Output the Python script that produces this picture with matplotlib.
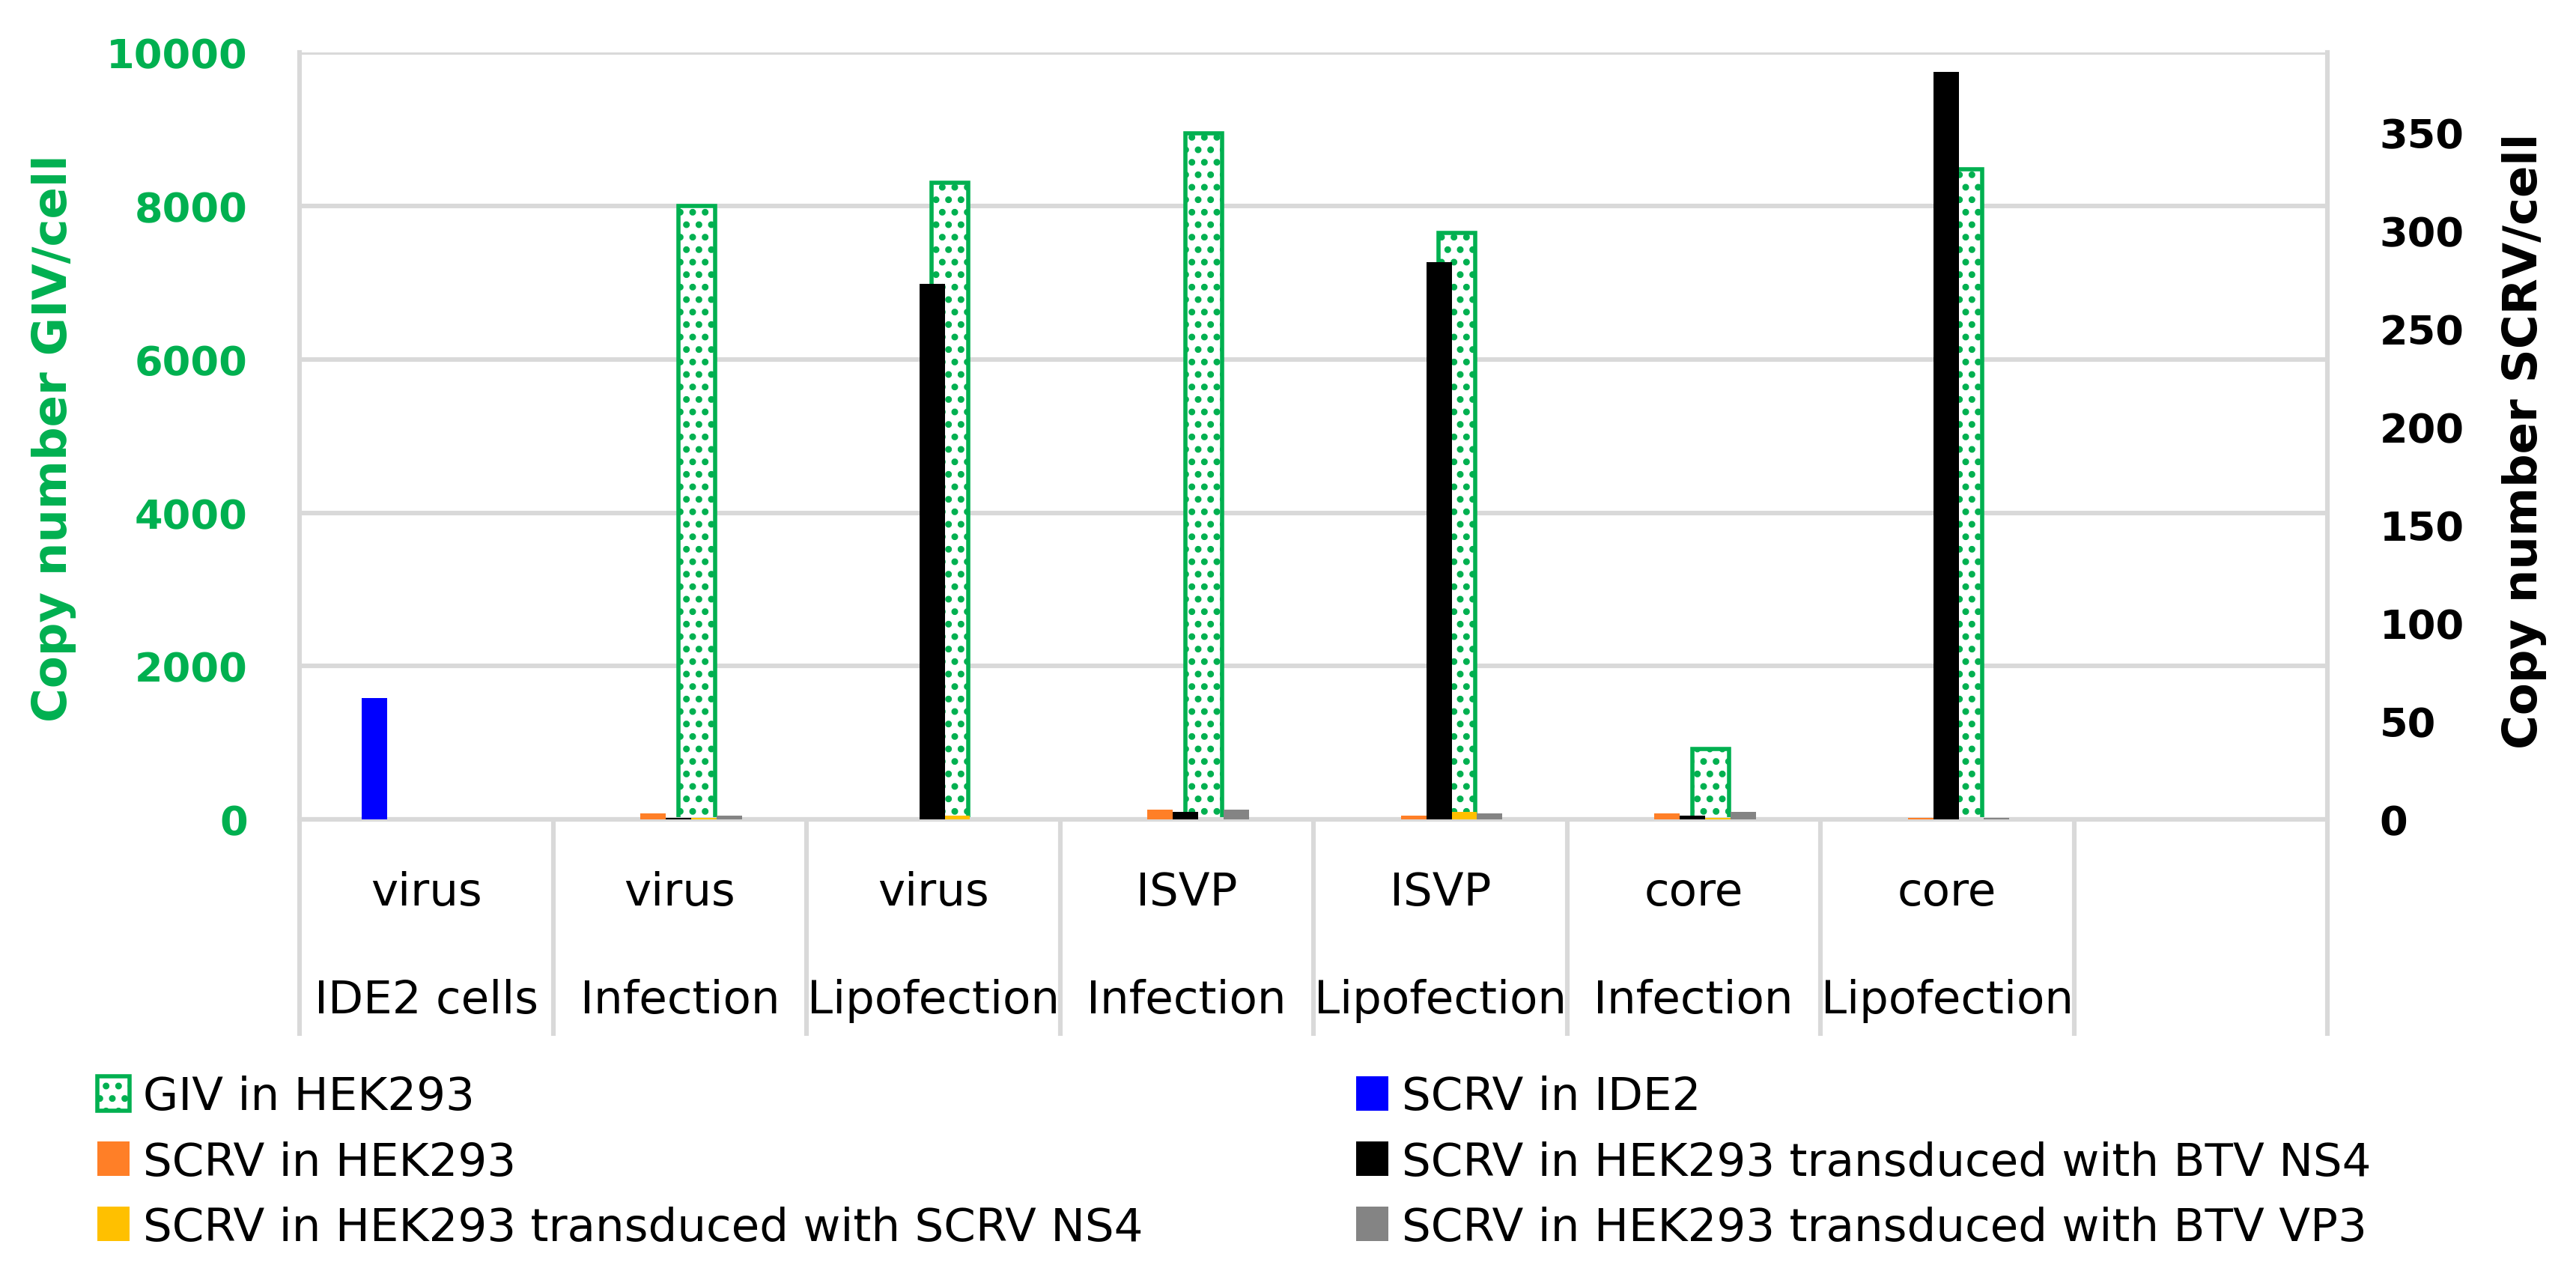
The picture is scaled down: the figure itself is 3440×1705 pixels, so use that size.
import numpy as np
import matplotlib.pyplot as plt
from matplotlib.patches import Patch

plt.rcParams['font.family'] = ['DejaVu Sans']
plt.rcParams['hatch.linewidth'] = 2.0

# categories (two label rows per group, last group is empty)
top_labels = ["virus", "virus", "virus", "ISVP", "ISVP", "core", "core", ""]
bottom_labels = ["IDE2 cells", "Infection", "Lipofection", "Infection",
                 "Lipofection", "Infection", "Lipofection", ""]

# left axis: GIV copies/cell
giv_hek = [0, 8000, 8300, 8950, 7650, 920, 8475, 0]

# right axis: SCRV copies/cell
scrv_ide2 = [62, 0, 0, 0, 0, 0, 0, 0]
scrv_hek = [0, 3.1, 0, 5.0, 1.9, 3.1, 0.8, 0]
scrv_btv_ns4 = [0, 0.8, 273, 3.8, 284, 1.9, 381, 0]
scrv_scrv_ns4 = [0, 0.8, 1.9, 0, 3.8, 0.8, 0, 0]
scrv_btv_vp3 = [0, 1.9, 0, 5.0, 3.1, 3.8, 0.8, 0]

green = "#00B050"
grid_c = "#D9D9D9"

fig = plt.figure(figsize=(17.2, 8.53), dpi=200)
ax = fig.add_axes([0.1163, 0.3581, 0.7872, 0.6002])
ax2 = ax.twinx()

x = np.arange(len(top_labels))

# GIV bars (primary axis, drawn underneath)
giv = np.array(giv_hek, dtype=float)
m = giv > 0
ax.bar(x[m] + 0.066, giv[m], width=0.145, facecolor="white",
       edgecolor=green, linewidth=2.0, hatch="..", zorder=2)

ax.set_xlim(-0.5, len(x) - 0.5)
ax.set_ylim(0, 10000)
ax.set_yticks(range(0, 10001, 2000))
ax.grid(axis="y", color=grid_c, linewidth=2.2)
ax.set_axisbelow(True)
ax.tick_params(axis="y", length=0, pad=25, labelsize=19.5, labelcolor=green)
for t in ax.get_yticklabels():
    t.set_fontweight("bold")

# category separators, drawn as long minor ticks below the axis
ax.set_xticks(x)
ax.set_xticklabels([])
ax.tick_params(axis="x", which="major", length=0)
ax.set_xticks(np.arange(-0.5, len(x)), minor=True)
ax.tick_params(axis="x", which="minor", length=104, width=2.2, color=grid_c)

ax.spines["top"].set_visible(False)
for s in ["left", "right", "bottom"]:
    ax.spines[s].set_color(grid_c)
    ax.spines[s].set_linewidth(2.2)

trans = ax.get_xaxis_transform()
for i in range(len(x)):
    ax.text(x[i], -0.0947, top_labels[i], transform=trans, ha="center",
            va="center", fontsize=22)
    ax.text(x[i], -0.236, bottom_labels[i], transform=trans, ha="center",
            va="center", fontsize=22)

# SCRV bars (secondary axis, on top)
series = [
    (scrv_ide2, "#0000FF", "SCRV in IDE2"),
    (scrv_hek, "#FF7F27", "SCRV in HEK293"),
    (scrv_btv_ns4, "#000000", "SCRV in HEK293 transduced with BTV NS4"),
    (scrv_scrv_ns4, "#FFC000", "SCRV in HEK293 transduced with SCRV NS4"),
    (scrv_btv_vp3, "#848484", "SCRV in HEK293 transduced with BTV VP3"),
]
w = 0.1
for k, (vals, col, lab) in enumerate(series):
    ax2.bar(x + (k - 2) * w - 0.005, vals, width=w, color=col, linewidth=0)

ax2.set_ylim(0, 390.7)
ax2.set_yticks(range(0, 351, 50))
ax2.tick_params(axis="y", length=0, pad=25, labelsize=19.5)
for t in ax2.get_yticklabels():
    t.set_fontweight("bold")
for s in ax2.spines.values():
    s.set_visible(False)

fig.text(0.0209, 0.657, "Copy number GIV/cell", rotation=90, ha="center",
         va="center", fontsize=22.5, fontweight="bold", color=green)
fig.text(0.980, 0.655, "Copy number SCRV/cell", rotation=90, ha="center",
         va="center", fontsize=22.5, fontweight="bold", color="black")

# legend in two columns, row-major order as in the original
h_giv = Patch(facecolor="white", edgecolor=green, linewidth=2.0, hatch="..")
hs = [Patch(facecolor=c, linewidth=0) for _, c, _ in series]
left_h = [h_giv, hs[1], hs[3]]
left_l = ["GIV in HEK293", series[1][2], series[3][2]]
right_h = [hs[0], hs[2], hs[4]]
right_l = [series[0][2], series[2][2], series[4][2]]

kw = dict(loc="upper left", frameon=False, fontsize=22, borderpad=0,
          borderaxespad=0, handlelength=0.7, handleheight=0.78,
          handletextpad=0.3, labelspacing=0.46)
fig.legend(left_h, left_l, bbox_to_anchor=(0.0378, 0.158), **kw)
fig.legend(right_h, right_l, bbox_to_anchor=(0.5265, 0.158), **kw)

fig.savefig("out.png", dpi=200)
